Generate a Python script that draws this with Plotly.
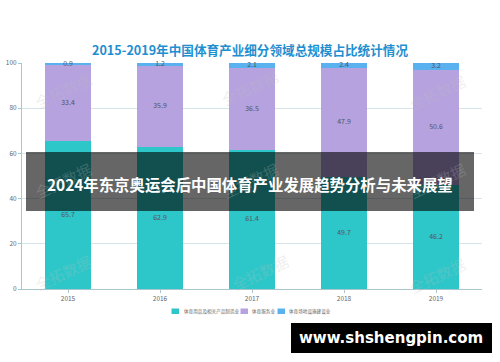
import plotly.graph_objects as go

years = ["2015", "2016", "2017", "2018", "2019"]
manufacturing = [65.7, 62.9, 61.4, 49.7, 46.2]
services = [33.4, 35.9, 36.5, 47.9, 50.6]
facilities = [0.9, 1.2, 2.1, 2.4, 3.2]
series_names = ["体育用品及相关产品制造业", "体育服务业", "体育场地设施建设业"]
y_ticks = [0, 20, 40, 60, 80, 100]

colors = ["#2ec7c9", "#b6a2de", "#5ab1ef"]
FONT = "Noto Sans CJK SC"

L, R, T, B = 22, 482, 63, 289
W, H = R - L, B - T
def px(x): return (x - L) / W
def py(y): return (B - y) / H

fig = go.Figure()
series = [manufacturing, services, facilities]
base = [0.0] * len(years)
for name, vals, col in zip(series_names, series, colors):
    fig.add_trace(go.Bar(
        x=years, y=vals, name=name, marker=dict(color=col, line=dict(width=0)),
        width=0.49, showlegend=False, hoverinfo="x+y+name",
    ))
    mids = [b + v / 2 for b, v in zip(base, vals)]
    fig.add_trace(go.Scatter(
        x=years, y=mids, mode="text", text=[f"{v:.1f}" for v in vals],
        textfont=dict(size=7, color="#555555", family=FONT), showlegend=False,
        hoverinfo="skip", cliponaxis=False,
    ))
    base = [b + v for b, v in zip(base, vals)]

def note(x, y, text, font, **kw):
    fig.add_annotation(x=px(x), y=py(y), xref="paper", yref="paper", text=text,
                       showarrow=False, xanchor=kw.pop("xanchor", "center"),
                       yanchor="middle", font=font, **kw)

# watermarks
for (wx, wy) in [(63, 90), (250, 88), (437, 92), (63, 180), (250, 180), (437, 180), (63, 272), (260, 272), (437, 275)]:
    note(wx, wy, "全拓数据", dict(size=15, color="rgba(190,190,190,0.25)", family=FONT), textangle=-25)

# legend (drawn)
leg = [(171.5, 181.5, 0), (240.5, 250, 1), (277.5, 286.5, 2)]
for sx, tx, i in leg:
    fig.add_shape(type="rect", xref="paper", yref="paper",
                  x0=px(sx), x1=px(sx + 7.5), y0=py(314), y1=py(308.5),
                  fillcolor=colors[i], line=dict(width=0))
    note(tx, 311.3, series_names[i], dict(size=4.6, color="#666666", family=FONT), xanchor="left")

# banner overlay
fig.add_shape(type="rect", xref="paper", yref="paper",
              x0=px(26), x1=px(474), y0=py(211), y1=py(152),
              fillcolor="rgba(0,0,0,0.6)", line=dict(width=0), layer="above")
note(250, 184, "<b>2024年东京奥运会后中国体育产业发展趋势分析与未来展望</b>",
     dict(size=15.4, color="white", family=FONT))

# url box
fig.add_shape(type="rect", xref="paper", yref="paper",
              x0=px(291), x1=px(492), y0=py(353), y1=py(323),
              fillcolor="black", line=dict(width=0), layer="above")
note(391, 338, "<b>www.shshengpin.com</b>", dict(size=15, color="white", family="DejaVu Sans"))

fig.update_layout(
    width=500, height=362,
    margin=dict(l=L, r=500 - R, t=T, b=362 - B, autoexpand=False),
    paper_bgcolor="white", plot_bgcolor="white",
    barmode="stack", bargap=0.51,
    title=dict(text="<b>2015-2019年中国体育产业细分领域总规模占比统计情况</b>",
               x=0.5, xanchor="center", y=1 - 51 / 362, yanchor="middle",
               font=dict(size=12.6, color="#1f8fd0", family=FONT)),
    showlegend=False,
    xaxis=dict(showline=True, linecolor="#a9c6cc", linewidth=1, ticks="outside", ticklen=3,
               tickcolor="#a9c6cc", tickfont=dict(size=6.5, color="#666666", family=FONT),
               showgrid=False),
    yaxis=dict(range=[0, 100], tickvals=y_ticks, showline=True, linecolor="#a9c6cc", linewidth=1,
               ticks="outside", ticklen=3, tickcolor="#a9c6cc",
               gridcolor="#d6e6e8", gridwidth=1, zeroline=False,
               tickfont=dict(size=6.5, color="#666666", family=FONT)),
    font=dict(family=FONT),
)

fig.write_html("out.html", config={"displayModeBar": False},
               post_script="document.body.style.margin='0';document.body.style.overflow='hidden';")
